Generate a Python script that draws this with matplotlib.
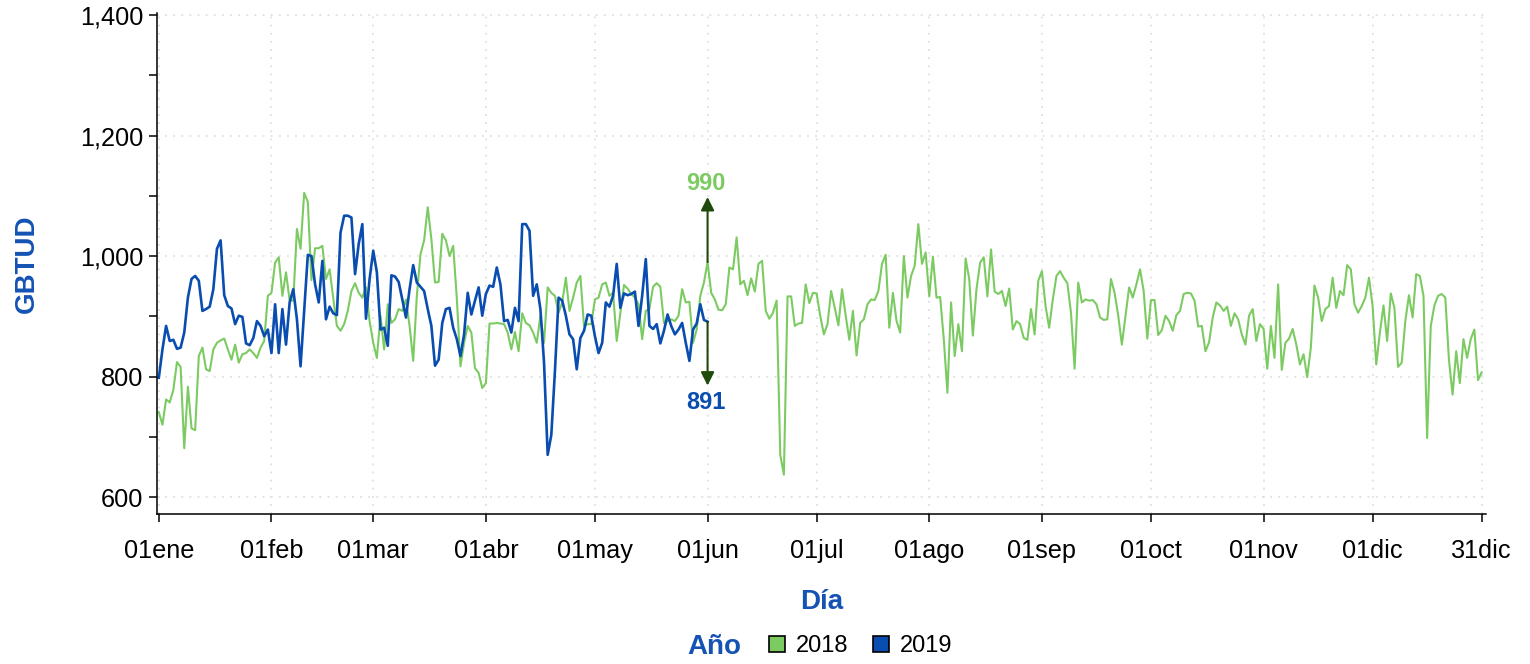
import matplotlib
matplotlib.use('Agg')
import matplotlib.pyplot as plt
from matplotlib.lines import Line2D
from matplotlib.ticker import FuncFormatter, MultipleLocator

plt.rcParams['font.family'] = ['Liberation Sans', 'DejaVu Sans']

# daily GBTUD, index 0 = 01ene
gbtud_2018 = [
    741, 720, 762, 757, 778, 824, 816, 681, 783, 714, 711, 834, 848, 812, 809, 845, 856, 860, 863, 845,
    828, 853, 823, 837, 839, 845, 839, 831, 848, 859, 934, 939, 989, 998, 934, 973, 926, 926, 1045, 1012,
    1105, 1090, 960, 1013, 1013, 1017, 962, 978, 930, 884, 876, 887, 909, 942, 955, 939, 931, 948, 892, 856,
    831, 901, 845, 920, 889, 895, 912, 909, 928, 884, 826, 934, 1003, 1026, 1081, 1028, 956, 957, 1037,
    1026, 1000, 1017, 930, 817, 856, 884, 873, 814, 806, 781, 789, 888, 888, 889, 888, 887, 873, 845, 874,
    842, 905, 889, 885, 873, 856, 901, 856, 948, 939, 934, 906, 923, 964, 909, 931, 956, 967, 884, 887,
    887, 928, 931, 953, 956, 934, 939, 859, 906, 952, 946, 937, 931, 920, 862, 909, 912, 949, 955, 949,
    889, 892, 895, 892, 901, 945, 923, 924, 856, 878, 934, 956, 990,
    939, 928, 911, 910, 920, 981, 978, 1031, 953, 959, 935, 963, 941, 987, 992, 909, 896, 906, 926, 670,
    637, 933, 933, 884, 888, 889, 953, 922, 939, 938, 901, 870, 887, 942, 914, 885, 945, 901, 861, 909,
    835, 889, 895, 920, 928, 927, 942, 987, 1002, 881, 939, 892, 873,
    1000, 931, 967, 984, 1053, 987, 1006, 933, 999, 931, 932, 862, 773, 923, 834, 887, 842, 996, 962, 868,
    945, 989, 998, 933, 1011, 941, 937, 942, 917, 946, 878, 892, 887, 864, 861, 912, 870, 959, 975, 917,
    881, 928, 967, 975, 964, 955, 906, 813, 956,
    923, 928, 926, 927, 920, 898, 894, 895, 962, 939, 901, 853, 901, 948, 931, 953, 978, 942, 863, 927,
    927, 869, 877, 901, 892, 876, 902, 909, 937, 939, 938, 926, 883, 884, 842, 857, 898, 923, 918, 909,
    916, 884, 905, 895, 870, 853, 901, 912, 859, 887, 879,
    813, 884, 831, 953, 811, 856, 863, 879, 853, 820, 837, 799, 848, 951, 931, 892, 912, 917, 964, 914,
    942, 935, 985, 978, 920, 906, 917, 931, 964, 917, 820, 873, 918, 859, 938, 914, 816, 823, 892, 935,
    898, 970, 967, 934, 698, 884, 918, 934, 937, 931, 828, 770, 842, 789, 862, 831, 862, 878, 794, 807,
]

gbtud_2019 = [
    798, 845, 884, 859, 861, 846, 848, 873, 931, 962, 967, 959, 909, 912, 916, 945, 1012, 1026, 935, 917,
    913, 887, 901, 899, 855, 852, 864, 892, 884, 867, 878, 839, 920, 839, 912, 853, 923, 945, 895, 817,
    910, 1002, 1000, 953, 923, 992, 895, 916, 905, 902, 1039, 1067, 1067, 1064, 970, 1020, 1053, 896, 962, 1009,
    973, 878, 881, 851, 968, 966, 957, 928, 898, 945, 985, 956, 949, 942, 912, 884, 818, 828, 889, 912,
    914, 881, 862, 834, 870, 939, 903, 926, 948, 901, 937, 951, 949, 981, 953, 892, 894, 873, 914, 892,
    1053, 1053, 1042, 934, 953, 912, 823, 670, 703, 809, 931, 926, 901, 870, 862, 812, 864, 876, 903,
    901, 867, 839, 856, 923, 916, 934, 987, 914, 938, 935, 937, 941, 884, 934, 995, 884, 879, 887, 855,
    876, 903, 884, 870, 878, 889, 856, 826, 878, 888, 920, 894, 891,
]

month_days = [0, 31, 59, 90, 120, 151, 181, 212, 243, 273, 304, 334, 364]
month_labels = ['01ene', '01feb', '01mar', '01abr', '01may', '01jun', '01jul',
                '01ago', '01sep', '01oct', '01nov', '01dic', '31dic']
years = ['2018', '2019']
colors = ['#7CCB62', '#0A4DB0']
label_blue = '#1452B4'
arrow_color = '#1F4A0C'
mark_day = 151

fig = plt.figure(figsize=(15.3, 6.64), dpi=100)
ax = fig.add_axes([157 / 1530, 1 - 514 / 664, (1486 - 157) / 1530, (514 - 13) / 664])

for vals, col, lw in zip([gbtud_2018, gbtud_2019], colors, [1.5, 1.9]):
    ax.plot(range(len(vals)), vals, color=col, lw=lw)

ax.set_xlim(-0.5, 365.2)
ax.set_ylim(571.8, 1403.5)

ax.set_xticks(month_days)
ax.set_xticklabels(month_labels)
ax.set_yticks([600, 800, 1000, 1200, 1400])
ax.yaxis.set_minor_locator(MultipleLocator(100))
ax.yaxis.set_major_formatter(FuncFormatter(lambda v, p: f'{int(v):,}'))

ax.grid(True, which='major', color='#E0E0E0', lw=1.3, ls=(0, (1, 3.5)))
ax.tick_params(axis='both', which='major', labelsize=18.2, length=6, width=1.1, direction='out')
ax.tick_params(axis='y', which='minor', length=6, width=1.1)
ax.tick_params(axis='x', pad=12)
ax.tick_params(axis='y', pad=4)
for s in ['top', 'right']:
    ax.spines[s].set_visible(False)
for s in ['left', 'bottom']:
    ax.spines[s].set_linewidth(1.1)

ax.set_ylabel('GBTUD', fontsize=20, fontweight='bold', color=label_blue, labelpad=29)
ax.set_xlabel('Día', fontsize=20, fontweight='bold', color=label_blue, labelpad=19)

# annotation at 01jun
v18 = gbtud_2018[mark_day]
v19 = gbtud_2019[mark_day]
ax.annotate('', xy=(mark_day, 1098), xytext=(mark_day, v18),
            arrowprops=dict(arrowstyle='-|>', color=arrow_color, lw=1.5, mutation_scale=20, shrinkA=0, shrinkB=0))
ax.annotate('', xy=(mark_day, 785), xytext=(mark_day, v19),
            arrowprops=dict(arrowstyle='-|>', color=arrow_color, lw=1.5, mutation_scale=20, shrinkA=0, shrinkB=0))
ax.text(mark_day - 0.5, 1121, f'{v18:,}', color=colors[0], fontsize=17, fontweight='bold', ha='center', va='center')
ax.text(mark_day - 0.5, 757, f'{v19:,}', color=colors[1], fontsize=17, fontweight='bold', ha='center', va='center')

# legend
fig.text(714 / 1530, 1 - 647 / 664, 'Año', fontsize=20, fontweight='bold', color=label_blue, ha='center', va='center')
handles = [Line2D([], [], ls='none', marker='s', markersize=11, markerfacecolor=c,
                  markeredgecolor='black', markeredgewidth=1.2) for c in colors]
fig.legend(handles, years, loc='center', bbox_to_anchor=(860 / 1530, 1 - 646 / 664), ncol=2,
           frameon=False, fontsize=17, handlelength=0.8, handletextpad=0.4, columnspacing=0.95)

fig.savefig('out.png', dpi=100)
